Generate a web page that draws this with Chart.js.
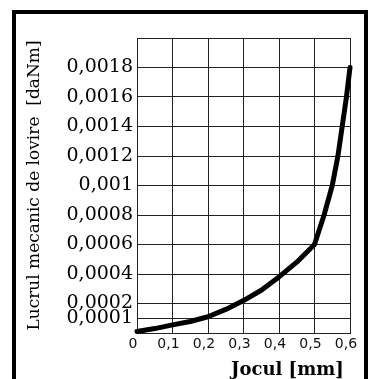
<!DOCTYPE html>
<html>
<head>
<meta charset="utf-8">
<script src="https://cdn.jsdelivr.net/npm/chart.js@4/dist/chart.umd.min.js"></script>
<style>
  html, body { margin: 0; padding: 0; background: #fff; overflow: hidden; }
  #wrap { position: relative; width: 373px; height: 379px; }
  #frame {
    position: absolute; left: 12px; top: 10px; width: 356px; height: 400px;
    box-sizing: border-box; border: 4px solid #000;
  }
  #box { position: absolute; left: 0; top: 0; width: 373px; height: 379px; }
</style>
</head>
<body>
<div id="wrap">
  <div id="frame"></div>
  <div id="box"><canvas id="c"></canvas></div>
</div>
<script>
  // ── Data ───────────────────────────────────────────────────────────
  const JOC_MM     = [0, 0.05, 0.1, 0.15, 0.2, 0.25, 0.3, 0.35, 0.4, 0.45, 0.5,
                      0.527, 0.55, 0.566, 0.578, 0.59, 0.6];
  const LUCRU_DANM = [0.00001, 0.00003, 0.000055, 0.000078, 0.00011, 0.00016, 0.00022, 0.00029,
                      0.00038, 0.00048, 0.0006, 0.0008, 0.001, 0.0012, 0.0014, 0.0016, 0.0018];

  // ── Axis ticks ─────────────────────────────────────────────────────
  const X_TICKS  = [0, 0.1, 0.2, 0.3, 0.4, 0.5, 0.6];
  const X_LABELS = ['0', '0,1', '0,2', '0,3', '0,4', '0,5', '0,6'];
  const Y_TICKS  = [0, 0.0001, 0.0002, 0.0004, 0.0006, 0.0008, 0.001, 0.0012, 0.0014, 0.0016, 0.0018, 0.002];
  const Y_LABELS = ['', '0,0001', '0,0002', '0,0004', '0,0006', '0,0008', '0,001',
                    '0,0012', '0,0014', '0,0016', '0,0018', ''];

  const GRID = '#222';

  new Chart(document.getElementById('c').getContext('2d'), {
    type: 'line',
    data: {
      datasets: [{
        data: JOC_MM.map((x, i) => ({ x, y: LUCRU_DANM[i] })),
        borderColor: '#000',
        borderWidth: 5,
        pointRadius: 0,
        tension: 0,
        fill: false,
        clip: false,
        borderCapStyle: 'round',
        borderJoinStyle: 'round',
      }],
    },
    options: {
      responsive: true,
      maintainAspectRatio: false,
      animation: false,
      events: [],
      layout: { padding: { left: 0, top: 38, right: 23, bottom: 0 } },
      plugins: { legend: { display: false }, tooltip: { enabled: false } },
      scales: {
        x: {
          type: 'linear', min: 0, max: 0.6,
          afterBuildTicks: s => { s.ticks = X_TICKS.map(v => ({ value: v })); },
          afterFit: s => { s.height = 46; },
          ticks: {
            callback: (v, i) => X_LABELS[i],
            color: '#111', padding: 3, labelOffset: -4, maxRotation: 0, autoSkip: false,
            font: { family: 'DejaVu Sans', size: 14 },
          },
          grid: { color: GRID, lineWidth: 1, drawTicks: false },
          border: { color: GRID, width: 1 },
          title: {
            display: true, text: 'Jocul [mm] ', align: 'end', color: '#000',
            font: { family: 'DejaVu Serif', size: 18, weight: 'bold', lineHeight: 1 },
            padding: { top: 0, bottom: 0 },
          },
        },
        y: {
          type: 'linear', min: 0, max: 0.002,
          afterBuildTicks: s => { s.ticks = Y_TICKS.map(v => ({ value: v })); },
          afterFit: s => { s.width = 137; },
          ticks: {
            callback: (v, i) => Y_LABELS[i],
            color: '#000', padding: 4, autoSkip: false,
            font: { family: 'DejaVu Serif', size: 19 },
          },
          grid: { color: GRID, lineWidth: 1, drawTicks: false },
          border: { color: GRID, width: 1 },
          title: {
            display: true, text: 'Lucrul mecanic de lovire  [daNm]', color: '#000',
            font: { family: 'DejaVu Serif', size: 17, lineHeight: 1 },
            padding: { top: 26, bottom: 0 },
          },
        },
      },
    },
  });
</script>
</body>
</html>
